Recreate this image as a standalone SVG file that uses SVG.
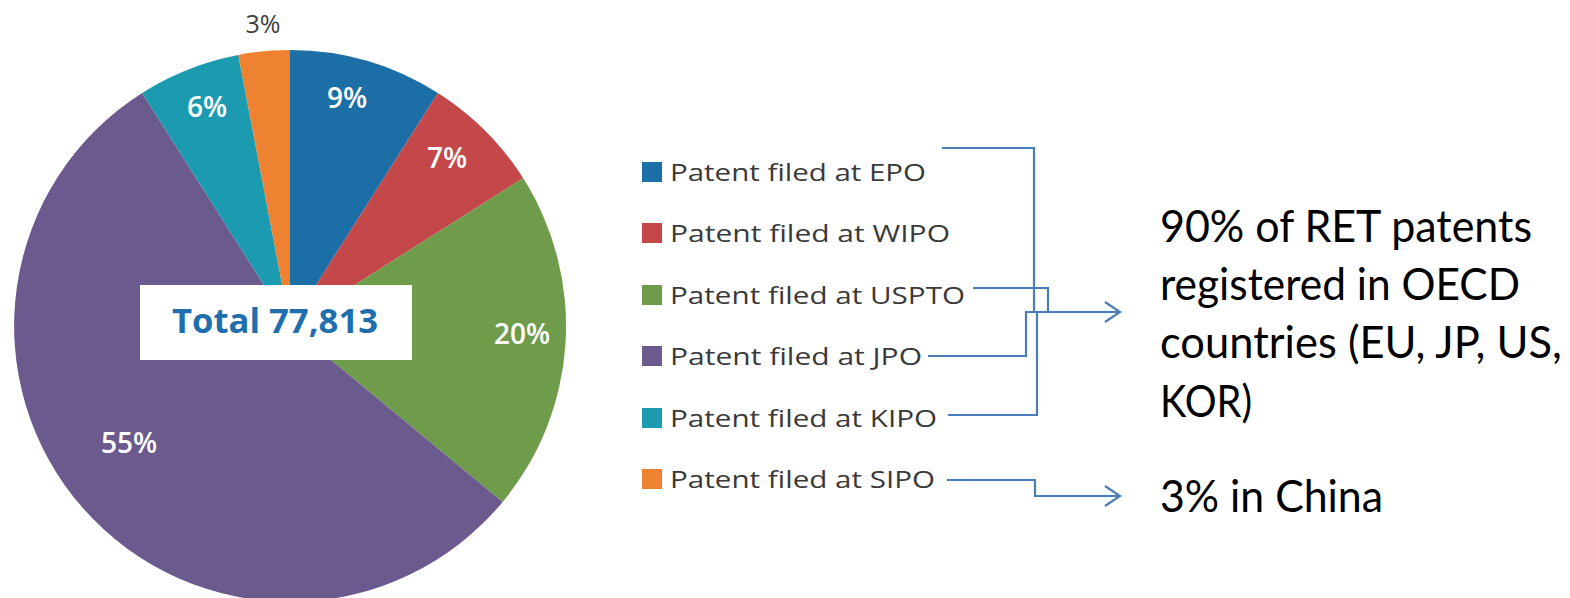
<svg xmlns="http://www.w3.org/2000/svg" width="1570" height="598" viewBox="0 0 1570 598">
<style>
.pct{font-family:"Open Sans",sans-serif;font-weight:600;font-size:28px;fill:#ffffff;text-anchor:middle}
.leg{font-family:"Open Sans",sans-serif;font-size:23px;fill:#3a3a3a}
.big{font-family:Lato,"Open Sans",sans-serif;font-size:44px;fill:#000000}
.conn{fill:none;stroke:#4a7ebb;stroke-width:2.2}
</style>
<defs>
<marker id="arr" markerWidth="18" markerHeight="22" refX="16" refY="11" orient="auto" markerUnits="userSpaceOnUse">
<path d="M1,1 L16,11 L1,21" fill="none" stroke="#4a7ebb" stroke-width="2.2"/>
</marker>
</defs>
<rect width="1570" height="598" fill="#ffffff"/>
<g id="pie">
<path d="M290,326 L290,50 A276,276 0 0 1 437.9,93 Z" fill="#1c6ea6"/>
<path d="M290,326 L437.9,93 A276,276 0 0 1 523.1,178.1 Z" fill="#c4484a"/>
<path d="M290,326 L523.1,178.1 A276,276 0 0 1 502.6,502.0 Z" fill="#6f9c4b"/>
<path d="M290,326 L502.6,502.0 A276,276 0 1 1 142.1,92.9 Z" fill="#6b5a8e"/>
<path d="M290,326 L142.1,92.9 A276,276 0 0 1 238.3,54.9 Z" fill="#1c9ab0"/>
<path d="M290,326 L238.3,54.9 A276,276 0 0 1 290,50 Z" fill="#ef8231"/>
<text class="pct" x="347" y="108">9%</text>
<text class="pct" x="447" y="168">7%</text>
<text class="pct" x="522" y="344">20%</text>
<text class="pct" x="129" y="453">55%</text>
<text class="pct" x="207" y="117">6%</text>
<text x="263" y="33" style="font-family:'Open Sans',sans-serif;font-size:25px;fill:#404040;text-anchor:middle">3%</text>
</g>
<g id="total">
<rect x="140" y="285" width="272" height="75" fill="#ffffff"/>
<text x="172" y="333" style="font-family:'Open Sans',sans-serif;font-weight:bold;font-size:34px;fill:#1f6fae" textLength="206" lengthAdjust="spacingAndGlyphs">Total 77,813</text>
</g>
<g id="legend">
<g id="leg-epo"><rect x="642" y="162" width="20" height="20" fill="#1c6ea6"/><text class="leg" x="670" y="181" textLength="256" lengthAdjust="spacingAndGlyphs">Patent filed at EPO</text></g>
<g id="leg-wipo"><rect x="642" y="223" width="20" height="20" fill="#c4484a"/><text class="leg" x="670" y="242" textLength="280" lengthAdjust="spacingAndGlyphs">Patent filed at WIPO</text></g>
<g id="leg-uspto"><rect x="642" y="285" width="20" height="20" fill="#6f9c4b"/><text class="leg" x="670" y="304" textLength="295" lengthAdjust="spacingAndGlyphs">Patent filed at USPTO</text></g>
<g id="leg-jpo"><rect x="642" y="346" width="20" height="20" fill="#6b5a8e"/><text class="leg" x="670" y="365" textLength="252" lengthAdjust="spacingAndGlyphs">Patent filed at JPO</text></g>
<g id="leg-kipo"><rect x="642" y="408" width="20" height="20" fill="#1c9ab0"/><text class="leg" x="670" y="427" textLength="267" lengthAdjust="spacingAndGlyphs">Patent filed at KIPO</text></g>
<g id="leg-sipo"><rect x="642" y="469" width="20" height="20" fill="#ef8231"/><text class="leg" x="670" y="488" textLength="265" lengthAdjust="spacingAndGlyphs">Patent filed at SIPO</text></g>
</g>
<g id="connectors">
<path class="conn" d="M942,148 H1034 V312"/>
<path class="conn" d="M948,415 H1037 V312"/>
<path class="conn" d="M973,288 H1048 V312"/>
<path class="conn" d="M928,356 H1026 V312 H1120" marker-end="url(#arr)"/>
<path class="conn" d="M947,480 H1035 V496 H1120" marker-end="url(#arr)"/>
</g>
<g id="oecd-text">
<text class="big" x="1160" y="242" textLength="372" lengthAdjust="spacingAndGlyphs">90% of RET patents</text>
<text class="big" x="1160" y="300" textLength="360" lengthAdjust="spacingAndGlyphs">registered in OECD</text>
<text class="big" x="1160" y="358" textLength="402" lengthAdjust="spacingAndGlyphs">countries (EU, JP, US,</text>
<text class="big" x="1160" y="417" textLength="92" lengthAdjust="spacingAndGlyphs">KOR)</text>
</g>
<g id="china-text">
<text class="big" x="1160" y="512" textLength="223" lengthAdjust="spacingAndGlyphs">3% in China</text>
</g>
</svg>
